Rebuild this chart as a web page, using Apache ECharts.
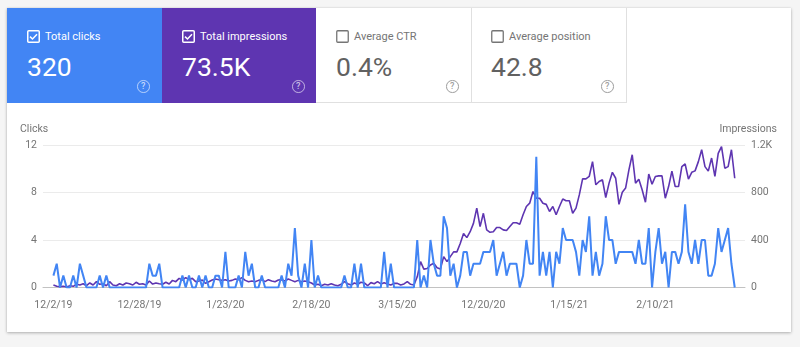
<!DOCTYPE html>
<html>
<head>
<meta charset="utf-8">
<title>Performance</title>
<script src="https://cdn.jsdelivr.net/npm/echarts@6/dist/echarts.min.js"></script>
<style>
  html, body { margin: 0; padding: 0; background: #f5f5f5; font-family: Roboto, "Noto Sans", sans-serif; }
  #card { position: absolute; left: 7px; top: 8px; width: 784px; height: 324px; background: #fff;
          box-shadow: 0 1px 3px rgba(0,0,0,0.28), 0 0 1px rgba(0,0,0,0.12); }
  .tile { position: absolute; top: 8px; height: 95px; box-sizing: border-box; }
  .tile .box { position: absolute; left: 20px; top: 22px; width: 13px; height: 13px; }
  .tile .label { position: absolute; left: 38px; top: 21px; font-size: 11px; line-height: 16px; white-space: nowrap; }
  .tile .value { position: absolute; left: 20px; top: 44px; font-size: 26.5px; line-height: 30px; white-space: nowrap; }
  .tile .help { position: absolute; left: 130px; top: 72px; width: 10.5px; height: 10.5px; border-radius: 50%;
                border: 1.3px solid; font-size: 9px; line-height: 10.5px; text-align: center; font-weight: 500; }
  .on { color: #fff; }
  .on .help { border-color: rgba(255,255,255,0.6); color: rgba(255,255,255,0.7); }
  .off { border-right: 1px solid #e0e0e0; border-bottom: 1px solid #e0e0e0; }
  .off .label { color: #757575; }
  .off .value { color: #616161; }
  .off .help { border-color: #9e9e9e; color: #9e9e9e; }
  #chart { position: absolute; left: 0; top: 0; width: 800px; height: 347px; }
</style>
</head>
<body>
<div id="card"></div>

<div class="tile on" style="left:7px;width:155px;background:#4285f4;">
  <svg class="box" viewBox="0 0 13 13"><rect x="0.75" y="0.75" width="11.5" height="11.5" rx="1" fill="none" stroke="#fff" stroke-width="1.5"/><path d="M3 6.6 L5.5 9 L10 4.2" fill="none" stroke="#fff" stroke-width="1.5"/></svg>
  <span class="label">Total clicks</span>
  <span class="value">320</span>
  <span class="help">?</span>
</div>
<div class="tile on" style="left:162px;width:154px;background:#5e35b1;">
  <svg class="box" viewBox="0 0 13 13"><rect x="0.75" y="0.75" width="11.5" height="11.5" rx="1" fill="none" stroke="#fff" stroke-width="1.5"/><path d="M3 6.6 L5.5 9 L10 4.2" fill="none" stroke="#fff" stroke-width="1.5"/></svg>
  <span class="label">Total impressions</span>
  <span class="value">73.5K</span>
  <span class="help">?</span>
</div>
<div class="tile off" style="left:316px;width:156px;">
  <svg class="box" viewBox="0 0 13 13"><rect x="0.75" y="0.75" width="11.5" height="11.5" rx="1" fill="none" stroke="#757575" stroke-width="1.3"/></svg>
  <span class="label">Average CTR</span>
  <span class="value">0.4%</span>
  <span class="help">?</span>
</div>
<div class="tile off" style="left:471px;width:156px;">
  <svg class="box" viewBox="0 0 13 13"><rect x="0.75" y="0.75" width="11.5" height="11.5" rx="1" fill="none" stroke="#757575" stroke-width="1.3"/></svg>
  <span class="label">Average position</span>
  <span class="value">42.8</span>
  <span class="help">?</span>
</div>

<div id="chart"></div>

<script>
// Two reporting periods shown back to back: [first day, number of days]
const periods = [['2019-12-02', 111], ['2020-12-01', 96]];

// Daily clicks
const clicks = [
  1,2,0,1,0,0,1,0,2,1,
  0,0,0,0,1,0,1,0,0,0,
  0,0,0,0,0,0,0,0,0,2,
  1,1,2,0,0,0,0,0,0,1,
  0,1,0,0,1,0,1,0,0,1,
  1,0,3,0,0,0,1,0,3,1,
  2,0,0,1,0,0,0,0,0,1,
  0,2,1,5,1,0,2,0,4,0,
  1,0,0,0,0,0,0,0,1,0,
  0,2,0,2,0,0,0,0,0,0,
  3,0,2,0,0,0,0,0,0,0,
  4,0,1,0,4,2,1,1,6,5,
  1,2,0,1,3,3,1,2,2,2,
  3,3,3,4,1,2,3,1,2,2,
  2,0,1,4,2,2,11,1,3,1,
  3,0,3,2,5,4,4,4,3,1,
  4,3,6,1,3,1,2,6,4,4,
  2,3,3,3,3,3,2,4,2,2,
  5,0,3,5,2,3,0,3,3,2,
  3,7,3,2,4,2,4,4,1,1,
  2,5,3,4,5,2,0
];

// Daily impressions
const impressions = [
  21,10,7,10,4,15,10,27,21,32,
  15,38,21,49,27,32,15,49,21,15,
  32,21,38,32,21,44,27,32,21,55,
  29,38,32,27,44,29,60,49,77,63,
  83,66,77,49,55,63,35,49,63,72,
  66,60,66,55,60,72,66,83,60,49,
  55,49,60,66,49,66,55,49,63,66,
  55,72,60,49,60,49,55,49,38,21,
  27,15,27,21,32,21,15,27,49,32,
  21,38,27,44,38,15,41,32,49,30,
  41,30,21,35,35,21,30,49,27,21,
  90,218,155,160,190,204,167,155,260,218,
  260,300,300,370,455,420,470,540,668,513,
  625,485,465,470,505,505,485,480,513,545,
  545,533,612,682,710,808,752,752,710,700,
  640,682,612,682,745,730,730,625,668,780,
  915,915,935,1060,865,893,907,758,879,970,
  920,700,802,837,990,1118,879,912,823,718,
  955,870,935,940,940,752,850,980,850,850,
  1018,1040,912,970,982,1060,1160,1018,980,1090,
  935,1130,1187,1005,1018,1160,920
];

// Dates written under the axis
const tickLabels = ['12/2/19', '12/28/19', '1/23/20', '2/18/20', '3/15/20', '12/20/20', '1/15/21', '2/10/21'];

// Left and right axis ticks
const clickTicks = [0, 4, 8, 12];
const impressionTicks = [0, 400, 800, 1200];

function shortDate(d) {
  return (d.getUTCMonth() + 1) + '/' + d.getUTCDate() + '/' + String(d.getUTCFullYear()).slice(2);
}

const days = [];
periods.forEach(([start, n]) => {
  const t0 = Date.parse(start + 'T00:00:00Z');
  for (let k = 0; k < n; k++) days.push(shortDate(new Date(t0 + k * 86400000)));
});

const tickIndex = tickLabels.map(l => days.indexOf(l));
const pairs = arr => arr.map((v, i) => [i, v]);

const gray = '#757575';
const chart = echarts.init(document.getElementById('chart'), null, { renderer: 'canvas' });

chart.setOption({
  backgroundColor: 'transparent',
  animation: false,
  grid: { left: 43, right: 55, top: 145, bottom: 59.5, outerBoundsMode: 'none' },
  graphic: [
    { type: 'text', left: 20, top: 124, style: { text: 'Clicks', fill: gray, fontSize: 10.5, fontFamily: 'Roboto' } },
    { type: 'text', right: 23, top: 124, style: { text: 'Impressions', fill: gray, fontSize: 10.5, fontFamily: 'Roboto' } }
  ],
  xAxis: {
    type: 'value',
    min: -3.15,
    max: days.length - 1 + 3.1,
    axisLine: { show: true, lineStyle: { color: '#c2c2c2', width: 1 } },
    axisTick: { show: false },
    splitLine: { show: false },
    axisLabel: {
      customValues: tickIndex,
      formatter: v => days[Math.round(v)],
      color: gray, fontSize: 10.5, fontFamily: 'Roboto', margin: 12
    }
  },
  yAxis: [
    {
      type: 'value',
      min: clickTicks[0], max: clickTicks[clickTicks.length - 1], interval: clickTicks[1] - clickTicks[0],
      axisLine: { show: false }, axisTick: { show: false },
      splitLine: { lineStyle: { color: '#ebebeb', width: 1 } },
      axisLabel: { color: gray, fontSize: 10.5, fontFamily: 'Roboto', margin: 6 }
    },
    {
      type: 'value',
      min: impressionTicks[0], max: impressionTicks[impressionTicks.length - 1], interval: impressionTicks[1] - impressionTicks[0],
      axisLine: { show: false }, axisTick: { show: false },
      splitLine: { show: false },
      axisLabel: {
        color: gray, fontSize: 10.5, fontFamily: 'Roboto', margin: 6,
        formatter: v => v >= 1000 ? (v / 1000) + 'K' : String(v)
      }
    }
  ],
  series: [
    {
      name: 'Impressions', type: 'line', yAxisIndex: 1, data: pairs(impressions),
      showSymbol: false, lineStyle: { color: '#5e35b1', width: 1.6 }, itemStyle: { color: '#5e35b1' }
    },
    {
      name: 'Clicks', type: 'line', yAxisIndex: 0, data: pairs(clicks),
      showSymbol: false, lineStyle: { color: '#4285f4', width: 2 }, itemStyle: { color: '#4285f4' }
    }
  ]
});
</script>
</body>
</html>
